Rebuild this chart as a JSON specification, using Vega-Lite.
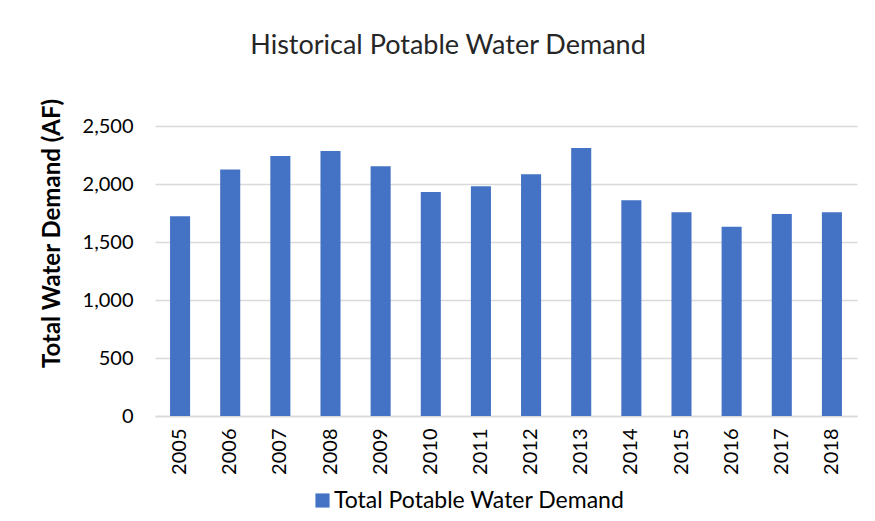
{
  "$schema": "https://vega.github.io/schema/vega-lite/v6.json",
  "autosize": "none",
  "width": 702,
  "height": 290,
  "padding": {"left": 155, "top": 126, "right": 18, "bottom": 105},
  "background": "white",
  "config": {
    "font": "Lato",
    "view": {"stroke": null}
  },
  "title": {
    "text": "Historical Potable Water Demand",
    "font": "Lato",
    "fontSize": 27,
    "fontWeight": "normal",
    "color": "#262626",
    "anchor": "middle",
    "dx": -58,
    "offset": 38
  },
  "data": {
    "values": [
      {"year": "2005", "demand": 1721, "series": "Total Potable Water Demand"},
      {"year": "2006", "demand": 2126, "series": "Total Potable Water Demand"},
      {"year": "2007", "demand": 2241, "series": "Total Potable Water Demand"},
      {"year": "2008", "demand": 2284, "series": "Total Potable Water Demand"},
      {"year": "2009", "demand": 2152, "series": "Total Potable Water Demand"},
      {"year": "2010", "demand": 1931, "series": "Total Potable Water Demand"},
      {"year": "2011", "demand": 1980, "series": "Total Potable Water Demand"},
      {"year": "2012", "demand": 2083, "series": "Total Potable Water Demand"},
      {"year": "2013", "demand": 2310, "series": "Total Potable Water Demand"},
      {"year": "2014", "demand": 1859, "series": "Total Potable Water Demand"},
      {"year": "2015", "demand": 1756, "series": "Total Potable Water Demand"},
      {"year": "2016", "demand": 1632, "series": "Total Potable Water Demand"},
      {"year": "2017", "demand": 1741, "series": "Total Potable Water Demand"},
      {"year": "2018", "demand": 1756, "series": "Total Potable Water Demand"}
    ]
  },
  "mark": {"type": "bar"},
  "encoding": {
    "x": {
      "field": "year",
      "type": "nominal",
      "scale": {"paddingInner": 0.6, "paddingOuter": 0.3},
      "axis": {
        "title": null,
        "labelAngle": -90,
        "labelFontSize": 20,
        "labelColor": "#000000",
        "labelPadding": 12,
        "ticks": false,
        "domainColor": "#d9d9d9",
        "domainWidth": 1.5
      }
    },
    "y": {
      "field": "demand",
      "type": "quantitative",
      "scale": {"domain": [0, 2500]},
      "axis": {
        "title": "Total Water Demand (AF)",
        "titleFontSize": 24,
        "titleFontWeight": "bold",
        "titleColor": "#000000",
        "titleX": -103,
        "titleY": 107,
        "titleAlign": "center",
        "titleAngle": -90,
        "titleBaseline": "middle",
        "values": [0, 500, 1000, 1500, 2000, 2500],
        "format": ",d",
        "labelFontSize": 20,
        "labelColor": "#000000",
        "labelPadding": 22,
        "ticks": false,
        "domain": false,
        "gridColor": "#d9d9d9",
        "gridWidth": 1.5
      }
    },
    "color": {
      "field": "series",
      "type": "nominal",
      "scale": {"range": ["#4472C4"]},
      "legend": {
        "title": null,
        "orient": "none",
        "legendX": 156,
        "legendY": 363,
        "symbolType": "square",
        "symbolSize": 200,
        "labelFontSize": 23,
        "labelLimit": 0,
        "labelColor": "#000000",
        "labelOffset": 0
      }
    }
  }
}
